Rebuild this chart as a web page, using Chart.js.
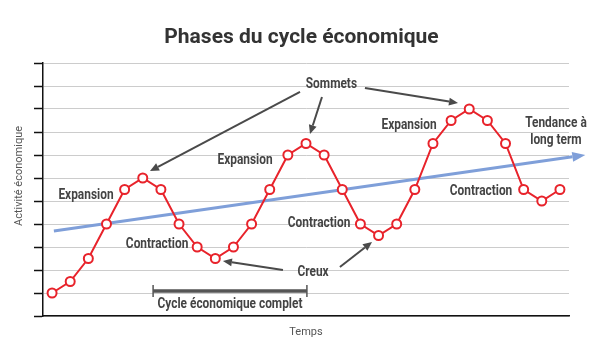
<!DOCTYPE html>
<html>
<head>
<meta charset="utf-8">
<script src="https://cdn.jsdelivr.net/npm/chart.js@4.4.1/dist/chart.umd.min.js"></script>
<style>
html,body{margin:0;padding:0;background:#fff;}
#wrap{width:600px;height:360px;position:relative;}
</style>
</head>
<body>
<div id="wrap"><canvas id="c"></canvas></div>
<script>
// ---- Data ----
const periods = ['1','2','3','4','5','6','7','8','9','10','11','12','13','14','15','16','17','18','19','20','21','22','23','24','25','26','27','28','29'];
const activity = [1, 1.5, 2.5, 4, 5.5, 6, 5.5, 4, 3, 2.5, 3, 4, 5.5, 7, 7.5, 7, 5.5, 4, 3.5, 4, 5.5, 7.5, 8.5, 9, 8.5, 7.5, 5.5, 5, 5.5];
const trendIndex = [0.1, 29.4];
const trendValue = [3.7, 7.0];

const chartTitle = 'Phases du cycle économique';
const xTitle = 'Temps';
const yTitle = 'Activité économique';

// phase labels (text, category index, value)
const phaseText  = ['Expansion', 'Expansion', 'Expansion', 'Contraction', 'Contraction', 'Contraction'];
const phaseIndex = [1.87, 10.64, 19.68, 5.79, 14.72, 23.65];
const phaseValue = [5.26, 6.74, 8.3, 3.09, 4.04, 5.43];

// callouts
const peakLabel = {text: 'Sommets', at: [15.4, 10.05],
  arrows: [[[13.67, 9.74], [5.4, 6.3]], [[14.88, 9.52], [14.22, 7.91]], [[17.25, 9.91], [22.38, 9.26]]]};
const troughLabel = {text: 'Creux', at: [14.39, 1.91],
  arrows: [[[12.73, 2.0], [9.42, 2.39]], [[15.87, 2.13], [17.64, 3.22]]]};
const trendLabel = {lines: ['Tendance à', 'long term'], at: [27.78, 8.35], lineStep: 0.74};
const cycleSpan = {text: 'Cycle économique complet', from: 5.57, to: 14.05, value: 1.09, textValue: 0.52};

const TEXT_DARK = '#444444';
const ARROW_DARK = '#4a4a4a';

function labelFont(ctx){ ctx.font = 'bold 14px Roboto, "Liberation Sans", sans-serif'; }
function drawLabel(ctx, text, x, y){
  ctx.save();
  labelFont(ctx);
  ctx.fillStyle = TEXT_DARK;
  ctx.textAlign = 'center';
  ctx.textBaseline = 'middle';
  ctx.translate(x, y);
  ctx.scale(0.85, 1);
  ctx.fillText(text, 0, 0);
  ctx.restore();
}
function drawArrow(ctx, x1, y1, x2, y2, color, width, headLen, headW){
  const ang = Math.atan2(y2 - y1, x2 - x1);
  const bx = x2 - headLen * Math.cos(ang), by = y2 - headLen * Math.sin(ang);
  ctx.save();
  ctx.strokeStyle = color; ctx.fillStyle = color; ctx.lineWidth = width;
  ctx.beginPath(); ctx.moveTo(x1, y1); ctx.lineTo(bx, by); ctx.stroke();
  ctx.beginPath();
  ctx.moveTo(x2, y2);
  ctx.lineTo(bx + headW/2 * Math.sin(ang), by - headW/2 * Math.cos(ang));
  ctx.lineTo(bx - headW/2 * Math.sin(ang), by + headW/2 * Math.cos(ang));
  ctx.closePath(); ctx.fill();
  ctx.restore();
}

const trendPlugin = {
  id: 'trend',
  beforeDatasetsDraw(chart){
    const ctx = chart.ctx, xs = chart.scales.x, ys = chart.scales.y;
    const x1 = xs.getPixelForValue(trendIndex[0]), y1 = ys.getPixelForValue(trendValue[0]);
    const x2 = xs.getPixelForValue(trendIndex[1]), y2 = ys.getPixelForValue(trendValue[1]);
    drawArrow(ctx, x1, y1, x2, y2, '#7f9fd9', 3, 13, 10);
  }
};

const annotPlugin = {
  id: 'annot',
  afterDatasetsDraw(chart){
    const ctx = chart.ctx, xs = chart.scales.x, ys = chart.scales.y;
    const P = (p) => [xs.getPixelForValue(p[0]), ys.getPixelForValue(p[1])];
    for (let i = 0; i < phaseText.length; i++){
      drawLabel(ctx, phaseText[i], xs.getPixelForValue(phaseIndex[i]), ys.getPixelForValue(phaseValue[i]));
    }
    [peakLabel, troughLabel].forEach(l => {
      const c = P(l.at);
      drawLabel(ctx, l.text, c[0], c[1]);
      l.arrows.forEach(a => {
        const s = P(a[0]), e = P(a[1]);
        drawArrow(ctx, s[0], s[1], e[0], e[1], ARROW_DARK, 2, 9, 8);
      });
    });
    trendLabel.lines.forEach((t, i) => {
      drawLabel(ctx, t, xs.getPixelForValue(trendLabel.at[0]), ys.getPixelForValue(trendLabel.at[1] - i * trendLabel.lineStep));
    });
    const cx1 = xs.getPixelForValue(cycleSpan.from), cx2 = xs.getPixelForValue(cycleSpan.to);
    const cy = ys.getPixelForValue(cycleSpan.value);
    ctx.save();
    ctx.strokeStyle = '#555555';
    ctx.lineWidth = 3.5;
    ctx.beginPath(); ctx.moveTo(cx1, cy); ctx.lineTo(cx2, cy); ctx.stroke();
    ctx.lineWidth = 1.5;
    ctx.beginPath();
    ctx.moveTo(cx1, cy - 6); ctx.lineTo(cx1, cy + 6);
    ctx.moveTo(cx2, cy - 6); ctx.lineTo(cx2, cy + 6);
    ctx.stroke();
    ctx.restore();
    drawLabel(ctx, cycleSpan.text, (cx1 + cx2) / 2, ys.getPixelForValue(cycleSpan.textValue));
  },
  afterDraw(chart){
    const ctx = chart.ctx;
    ctx.save();
    ctx.font = '11px Roboto, "Liberation Sans", sans-serif';
    ctx.fillStyle = '#555555';
    ctx.textAlign = 'center';
    ctx.textBaseline = 'middle';
    ctx.translate(19, 176);
    ctx.rotate(-Math.PI / 2);
    ctx.fillText(yTitle, 0, 0);
    ctx.restore();
  }
};

new Chart(document.getElementById('c'), {
  type: 'line',
  data: {
    labels: periods,
    datasets: [{
      label: 'Activité',
      data: activity,
      borderColor: '#e8232b',
      borderWidth: 2,
      backgroundColor: '#ffffff',
      pointBackgroundColor: '#ffffff',
      pointBorderColor: '#e8232b',
      pointBorderWidth: 2,
      pointRadius: 4.5,
      tension: 0,
      fill: false
    }]
  },
  options: {
    responsive: true,
    maintainAspectRatio: false,
    animation: false,
    layout: {padding: {left: 34, right: 31, top: 0, bottom: 17.4}},
    plugins: {
      legend: {display: false},
      tooltip: {enabled: false},
      title: {
        display: true,
        text: chartTitle,
        color: '#333333',
        font: {family: 'Roboto', size: 21, weight: 'bold'},
        padding: {top: 25.4, bottom: 12.4}
      }
    },
    scales: {
      x: {
        type: 'category',
        offset: true,
        grid: {display: false, drawTicks: false, tickLength: 0},
        border: {display: true, color: '#111111', width: 1.5},
        ticks: {display: false},
        title: {display: true, text: xTitle, color: '#555555',
          font: {family: 'Roboto', size: 11}, padding: {top: 9.4, bottom: 4}}
      },
      y: {
        min: 0,
        max: 11,
        ticks: {display: false, stepSize: 1},
        grid: {color: '#cccccc', lineWidth: 1, tickLength: 9, tickColor: '#111111', tickWidth: 1.5},
        border: {display: true, color: '#111111', width: 1.5}
      }
    }
  },
  plugins: [trendPlugin, annotPlugin]
});
</script>
</body>
</html>
